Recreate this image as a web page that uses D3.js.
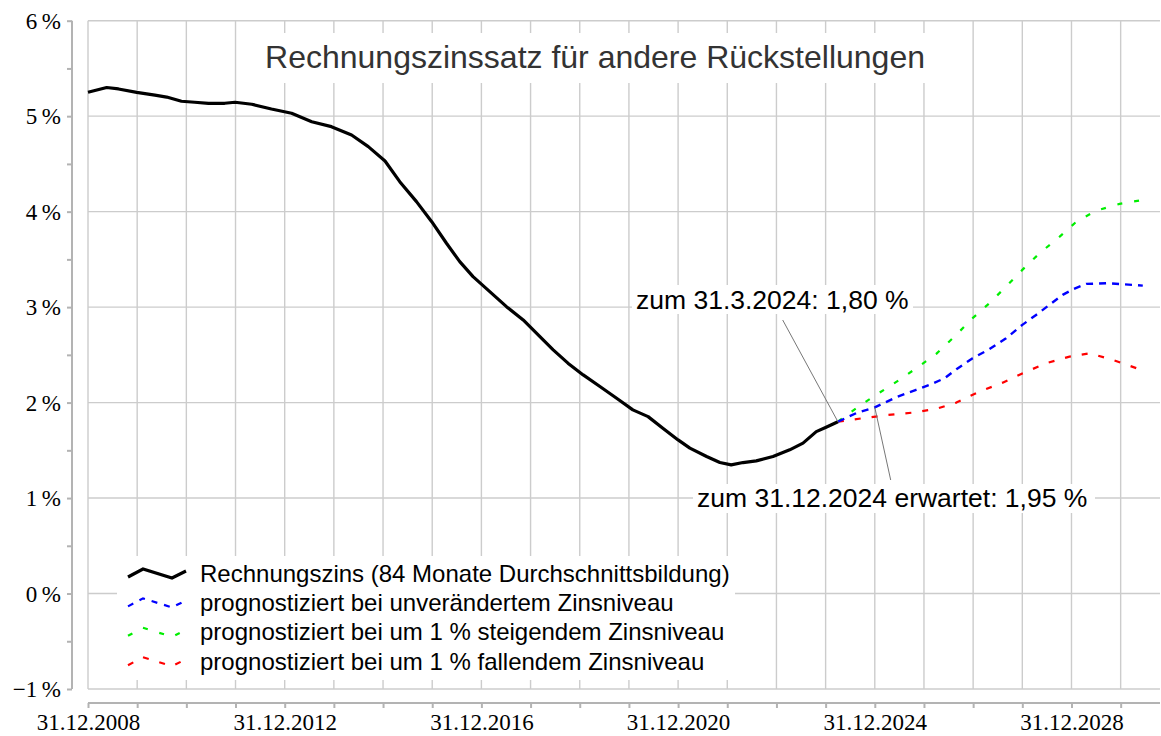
<!DOCTYPE html>
<html lang="de">
<head>
<meta charset="UTF-8">
<title>Rechnungszinssatz für andere Rückstellungen</title>
<script src="https://d3js.org/d3.v7.min.js"></script>
<style>
  body { margin: 0; background: #fff; }
  svg { display: block; }
  .grid line { stroke: #cccccc; stroke-width: 1.4; }
  .axis path, .axis line { stroke: #b3b3b3; stroke-width: 2; }
  .axis text { font-family: "Liberation Serif", "Times New Roman", serif; font-size: 23px; fill: #000; }
  .sans { font-family: "Liberation Sans", Arial, sans-serif; }
</style>
</head>
<body>
<svg id="chart" width="1161" height="736"></svg>
<script>
// Zeit als Dezimaljahr (2009.0 = 31.12.2008), Werte in %
const istJahr = [2009.0, 2009.38, 2009.62, 2009.99, 2010.36, 2010.60, 2010.90, 2011.17, 2011.45, 2011.78,
  2011.99, 2012.33, 2012.73, 2013.14, 2013.55, 2013.95, 2014.36, 2014.70, 2015.04, 2015.34,
  2015.68, 2015.99, 2016.29, 2016.56, 2016.83, 2017.17, 2017.51, 2017.85, 2018.19, 2018.46,
  2018.76, 2019.07, 2019.41, 2019.75, 2020.08, 2020.39, 2020.69, 2021.00, 2021.24, 2021.58,
  2021.85, 2022.08, 2022.32, 2022.59, 2022.93, 2023.27, 2023.54, 2023.81, 2024.01, 2024.25];
const istZins = [5.25, 5.30, 5.285, 5.25, 5.22, 5.20, 5.156, 5.146, 5.135, 5.135,
  5.146, 5.125, 5.075, 5.03, 4.942, 4.89, 4.803, 4.681, 4.531, 4.314,
  4.105, 3.895, 3.669, 3.476, 3.319, 3.162, 3.005, 2.866, 2.691, 2.552,
  2.413, 2.29, 2.168, 2.046, 1.924, 1.853, 1.732, 1.609, 1.523, 1.435,
  1.372, 1.348, 1.372, 1.389, 1.435, 1.505, 1.575, 1.696, 1.742, 1.80];

const gleichJahr = [2024.25, 2024.62, 2025.00, 2025.44, 2025.84, 2026.11, 2026.42, 2026.66, 2026.99, 2027.33,
  2027.67, 2028.00, 2028.28, 2028.55, 2028.82, 2029.03, 2029.30, 2029.71, 2030.05, 2030.45];
const gleichZins = [1.80, 1.889, 1.95, 2.057, 2.133, 2.185, 2.255, 2.35, 2.465, 2.559,
  2.674, 2.814, 2.918, 3.023, 3.128, 3.187, 3.243, 3.25, 3.24, 3.225];

const steigJahr = [2024.25, 2024.69, 2025.10, 2025.50, 2025.91, 2026.25, 2026.62, 2026.99, 2027.33, 2027.67,
  2028.00, 2028.35, 2028.76, 2029.10, 2029.50, 2029.98, 2030.45];
const steigZins = [1.80, 1.965, 2.105, 2.238, 2.384, 2.51, 2.691, 2.884, 3.041, 3.215,
  3.39, 3.564, 3.738, 3.895, 4.01, 4.081, 4.123];

const fallJahr = [2024.25, 2024.76, 2025.23, 2025.77, 2026.25, 2026.66, 2027.13, 2027.60, 2028.01, 2028.49,
  2028.96, 2029.37, 2029.84, 2030.42];
const fallZins = [1.80, 1.837, 1.868, 1.895, 1.934, 2.0, 2.115, 2.209, 2.308, 2.413,
  2.482, 2.517, 2.447, 2.342];

const yTicks = [-1, 0, 1, 2, 3, 4, 5, 6];
const yLabels = ["\u22121\u2009%", "0\u2009%", "1\u2009%", "2\u2009%", "3\u2009%", "4\u2009%", "5\u2009%", "6\u2009%"];
const xLabelJahr = [2009, 2013, 2017, 2021, 2025, 2029];
const xLabels = ["31.12.2008", "31.12.2012", "31.12.2016", "31.12.2020", "31.12.2024", "31.12.2028"];

const legendTexte = [
  "Rechnungszins (84 Monate Durchschnittsbildung)",
  "prognostiziert bei unverändertem Zinsniveau",
  "prognostiziert bei um 1 % steigendem Zinsniveau",
  "prognostiziert bei um 1 % fallendem Zinsniveau"
];

const svg = d3.select("#chart");
const plotLeft = 88, plotRight = 1160, plotTop = 20.7, plotBottom = 689;

const x = d3.scaleLinear().domain([2009, 2030.8]).range([plotLeft, plotRight]);
const y = d3.scaleLinear().domain([-1, 6]).range([plotBottom, plotTop]);

// Gitter
const grid = svg.append("g").attr("class", "grid");
grid.selectAll(".v").data(d3.range(2009, 2031)).join("line").attr("class", "v")
  .attr("x1", d => x(d)).attr("x2", d => x(d)).attr("y1", plotTop).attr("y2", plotBottom);
grid.selectAll(".h").data(yTicks).join("line").attr("class", "h")
  .attr("x1", plotLeft).attr("x2", plotRight).attr("y1", d => y(d)).attr("y2", d => y(d));

// y-Achse
const yAxis = d3.axisLeft(y)
  .tickValues(d3.range(-1, 6.01, 0.5))
  .tickSize(5).tickPadding(6)
  .tickFormat(d => { const i = yTicks.indexOf(d); return i >= 0 ? yLabels[i] : ""; });
const gy = svg.append("g").attr("class", "axis").attr("transform", "translate(72,0)").call(yAxis);
gy.select(".domain").attr("d", `M0,${plotTop}V${plotBottom}`);
gy.selectAll("text").attr("dy", "0.33em");

// x-Achse
const xAxis = d3.axisBottom(x)
  .tickValues(d3.range(2009, 2031))
  .tickSize(5).tickPadding(6)
  .tickFormat(d => { const i = xLabelJahr.indexOf(d); return i >= 0 ? xLabels[i] : ""; });
const gx = svg.append("g").attr("class", "axis").attr("transform", "translate(0,703)").call(xAxis);
gx.select(".domain").attr("d", `M${plotLeft},0H${plotRight}`);
gx.selectAll("text").attr("dy", "0.71em");

// Titel
svg.append("rect").attr("x", 253).attr("y", 33).attr("width", 684).attr("height", 50).attr("fill", "#fff");
svg.append("text").attr("class", "sans")
  .attr("x", 595).attr("y", 68).attr("text-anchor", "middle")
  .attr("font-size", 32).attr("fill", "#333")
  .text("Rechnungszinssatz für andere Rückstellungen");

// Linien
const line = d3.line().x(d => x(d[0])).y(d => y(d[1]));
const serien = [
  { jahr: fallJahr, zins: fallZins, color: "#ff0000", dash: "6,11", w: 2.2 },
  { jahr: steigJahr, zins: steigZins, color: "#00ee00", dash: "5,12", w: 2.2 },
  { jahr: gleichJahr, zins: gleichZins, color: "#0000ff", dash: "7,6", w: 2.4 },
  { jahr: istJahr, zins: istZins, color: "#000", dash: null, w: 3.2 }
];
serien.forEach(s => {
  svg.append("path")
    .datum(d3.zip(s.jahr, s.zins))
    .attr("fill", "none").attr("stroke", s.color).attr("stroke-width", s.w)
    .attr("stroke-dasharray", s.dash).attr("stroke-linejoin", "round")
    .attr("d", line);
});

// Legende
svg.append("rect").attr("x", 117).attr("y", 556).attr("width", 618).attr("height", 124).attr("fill", "#fff");
const legendFarben = ["#000", "#0000ff", "#00ee00", "#ff0000"];
const legendDash = [null, "6,7", "5,12", "6,11"];
const legendZick = [[128, 4], [143, -4], [172, 5], [186, -2]];
legendTexte.forEach((t, i) => {
  const cy = 573 + i * 29.4;
  svg.append("path")
    .attr("d", d3.line()(legendZick.map(p => [p[0], cy + p[1]])))
    .attr("fill", "none").attr("stroke", legendFarben[i])
    .attr("stroke-width", i === 0 ? 3.2 : 2.2)
    .attr("stroke-dasharray", legendDash[i]);
  svg.append("text").attr("class", "sans")
    .attr("x", 200).attr("y", cy + 8.5)
    .attr("font-size", 24).attr("fill", "#000")
    .text(t);
});

// Anmerkungen
const notes = [
  { text: "zum 31.3.2024: 1,80 %", tx: 636, ty: 309, box: [632, 285, 281, 29], from: [782.7, 320], jahr: 2024.25, wert: 1.80 },
  { text: "zum 31.12.2024 erwartet: 1,95 %", tx: 697, ty: 507, box: [693, 484, 402, 29], from: [890.7, 480], jahr: 2025.0, wert: 1.95 }
];
notes.forEach(n => {
  svg.append("line")
    .attr("x1", n.from[0]).attr("y1", n.from[1])
    .attr("x2", x(n.jahr)).attr("y2", y(n.wert))
    .attr("stroke", "#777").attr("stroke-width", 1);
  svg.append("rect").attr("x", n.box[0]).attr("y", n.box[1])
    .attr("width", n.box[2]).attr("height", n.box[3]).attr("fill", "#fff");
  svg.append("text").attr("class", "sans")
    .attr("x", n.tx).attr("y", n.ty)
    .attr("font-size", 26.5).attr("fill", "#000")
    .text(n.text);
});
</script>
</body>
</html>
